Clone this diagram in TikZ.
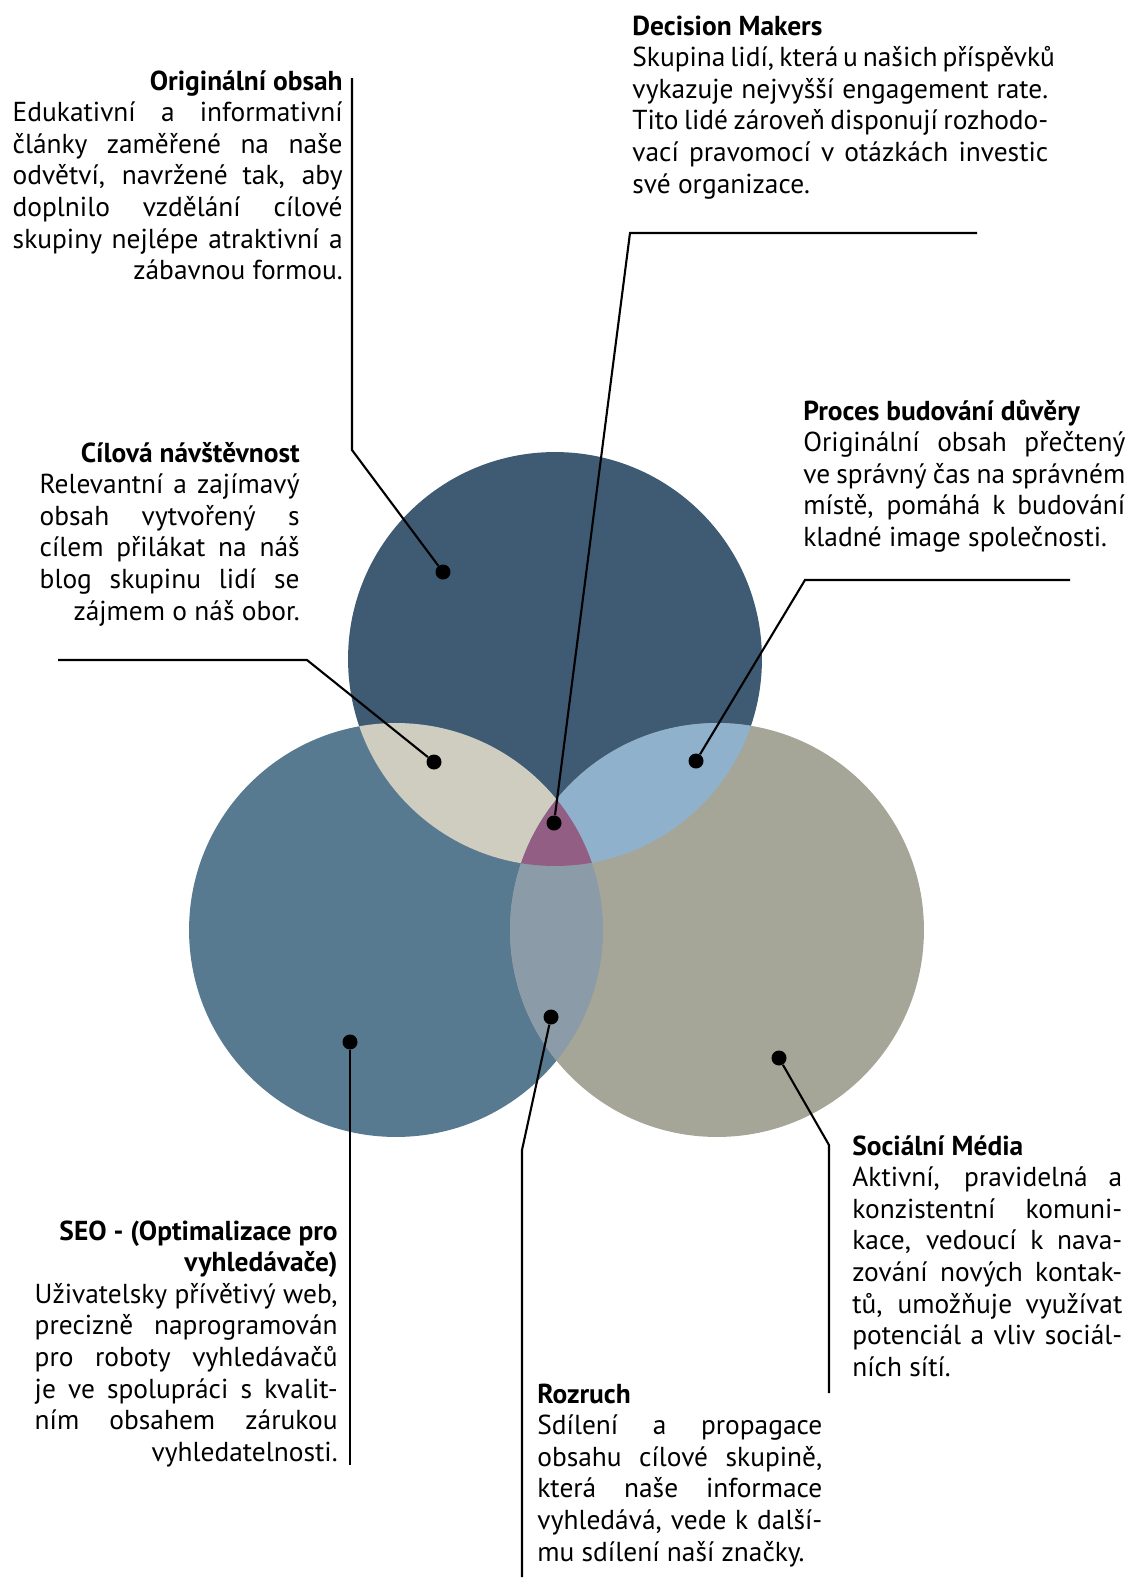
\documentclass[tikz,border=0pt]{standalone}
\usepackage{fontspec}
\setmainfont{PT Sans}
\definecolor{topblue}{HTML}{3E5B73}
\definecolor{leftblue}{HTML}{587A91}
\definecolor{rightgray}{HTML}{A6A698}
\definecolor{topleft}{HTML}{CFCCC0}
\definecolor{topright}{HTML}{8FB1CB}
\definecolor{leftright}{HTML}{8B9BA7}
\definecolor{centre}{HTML}{935E84}
\newcommand\txtbox[2]{\vtop{\hsize=#1\relax#2}}
\newcommand\jus[1]{\hbox to\hsize{#1}}
\newcommand\rgt[1]{\hbox to\hsize{\hfil#1}}
\newcommand\lft[1]{\hbox to\hsize{#1\hfil}}
\tikzset{
  txt/.style={inner sep=0pt, font=\fontsize{15.6}{18}\selectfont},
  dot/.style={circle, fill=black, inner sep=0pt, minimum size=0.3cm},
  lead/.style={line width=1.2pt, black},
}
\begin{document}
\begin{tikzpicture}[x=0.02cm, y=-0.02cm]
\useasboundingbox (0,0) rectangle (1148,1579);
\coordinate (ctop) at (555,659);
\coordinate (cleft) at (396,930);
\coordinate (cright) at (717,930);
\fill[topblue] (ctop) circle (4.14cm);
\fill[leftblue] (cleft) circle (4.14cm);
\fill[rightgray] (cright) circle (4.14cm);
\begin{scope}
  \clip (ctop) circle (4.14cm);
  \fill[topleft] (cleft) circle (4.14cm);
  \fill[topright] (cright) circle (4.14cm);
\end{scope}
\begin{scope}
  \clip (cleft) circle (4.14cm);
  \fill[leftright] (cright) circle (4.14cm);
  \clip (ctop) circle (4.14cm);
  \fill[centre] (cright) circle (4.14cm);
\end{scope}

\node[dot] (dorig) at (443,572) {};
\node[dot] (ddec) at (554,823) {};
\node[dot] (dcil) at (434,762) {};
\node[dot] (dproc) at (696,761) {};
\node[dot] (dseo) at (350,1042) {};
\node[dot] (droz) at (551,1017) {};
\node[dot] (dsoc) at (779,1058) {};

\node[txt, anchor=base east] (orig) at (343,90) {\txtbox{6.6cm}{
  \rgt{\bfseries Originální obsah}
  \jus{Edukativní a informativní}
  \jus{články zaměřené na naše}
  \jus{odvětví, navržené tak, aby}
  \jus{doplnilo vzdělání cílové}
  \jus{skupiny nejlépe atraktivní a}
  \rgt{zábavnou formou.}}};
\node[txt, anchor=base west] (dec) at (632,35) {\txtbox{8.32cm}{
  \lft{\bfseries Decision Makers}
  \jus{Skupina lidí, která u našich příspěvků}
  \jus{vykazuje nejvyšší engagement rate.}
  \jus{Tito lidé zároveň disponují rozhodo-}
  \jus{vací pravomocí v otázkách investic}
  \lft{své organizace.}}};
\node[txt, anchor=base east] (cil) at (300,462) {\txtbox{5.2cm}{
  \rgt{\bfseries Cílová návštěvnost}
  \jus{Relevantní a zajímavý}
  \jus{obsah vytvořený s}
  \jus{cílem přilákat na náš}
  \jus{blog skupinu lidí se}
  \rgt{zájmem o náš obor.}}};
\node[txt, anchor=base west] (proc) at (803,420) {\txtbox{6.44cm}{
  \lft{\bfseries Proces budování důvěry}
  \jus{Originální obsah přečtený}
  \jus{ve správný čas na správném}
  \jus{místě, pomáhá k budování}
  \lft{kladné image společnosti.}}};
\node[txt, anchor=base east] (seo) at (338,1240) {\txtbox{6.06cm}{
  \rgt{\bfseries SEO - (Optimalizace pro}
  \rgt{\bfseries vyhledávače)}
  \jus{Uživatelsky přívětivý web,}
  \jus{precizně naprogramován}
  \jus{pro roboty vyhledávačů}
  \jus{je ve spolupráci s kvalit-}
  \jus{ním obsahem zárukou}
  \rgt{vyhledatelnosti.}}};
\node[txt, anchor=base west] (roz) at (537,1403) {\txtbox{5.7cm}{
  \lft{\bfseries Rozruch}
  \jus{Sdílení a propagace}
  \jus{obsahu cílové skupině,}
  \jus{která naše informace}
  \jus{vyhledává, vede k další-}
  \lft{mu sdílení naší značky.}}};
\node[txt, anchor=base west] (soc) at (852,1155) {\txtbox{5.4cm}{
  \lft{\bfseries Sociální Média}
  \jus{Aktivní, pravidelná a}
  \jus{konzistentní komuni-}
  \jus{kace, vedoucí k nava-}
  \jus{zování nových kontak-}
  \jus{tů, umožňuje využívat}
  \jus{potenciál a vliv sociál-}
  \lft{ních sítí.}}};

\coordinate (orig1) at (352,78);
\coordinate (orig2) at (352,450);
\coordinate (dec1) at (977,233);
\coordinate (dec2) at (630,233);
\coordinate (cil1) at (58,660);
\coordinate (cil2) at (307,660);
\coordinate (proc1) at (1070,580);
\coordinate (proc2) at (805,580);
\coordinate (seo1) at (350,1465);
\coordinate (roz1) at (522,1150);
\coordinate (roz2) at (522,1577);
\coordinate (soc1) at (829,1145);
\coordinate (soc2) at (829,1393);
\draw[lead] (orig1) -- (orig2) -- (dorig);
\draw[lead] (dec1) -- (dec2) -- (ddec);
\draw[lead] (cil1) -- (cil2) -- (dcil);
\draw[lead] (proc1) -- (proc2) -- (dproc);
\draw[lead] (dseo) -- (seo1);
\draw[lead] (droz) -- (roz1) -- (roz2);
\draw[lead] (dsoc) -- (soc1) -- (soc2);
\end{tikzpicture}
\end{document}
